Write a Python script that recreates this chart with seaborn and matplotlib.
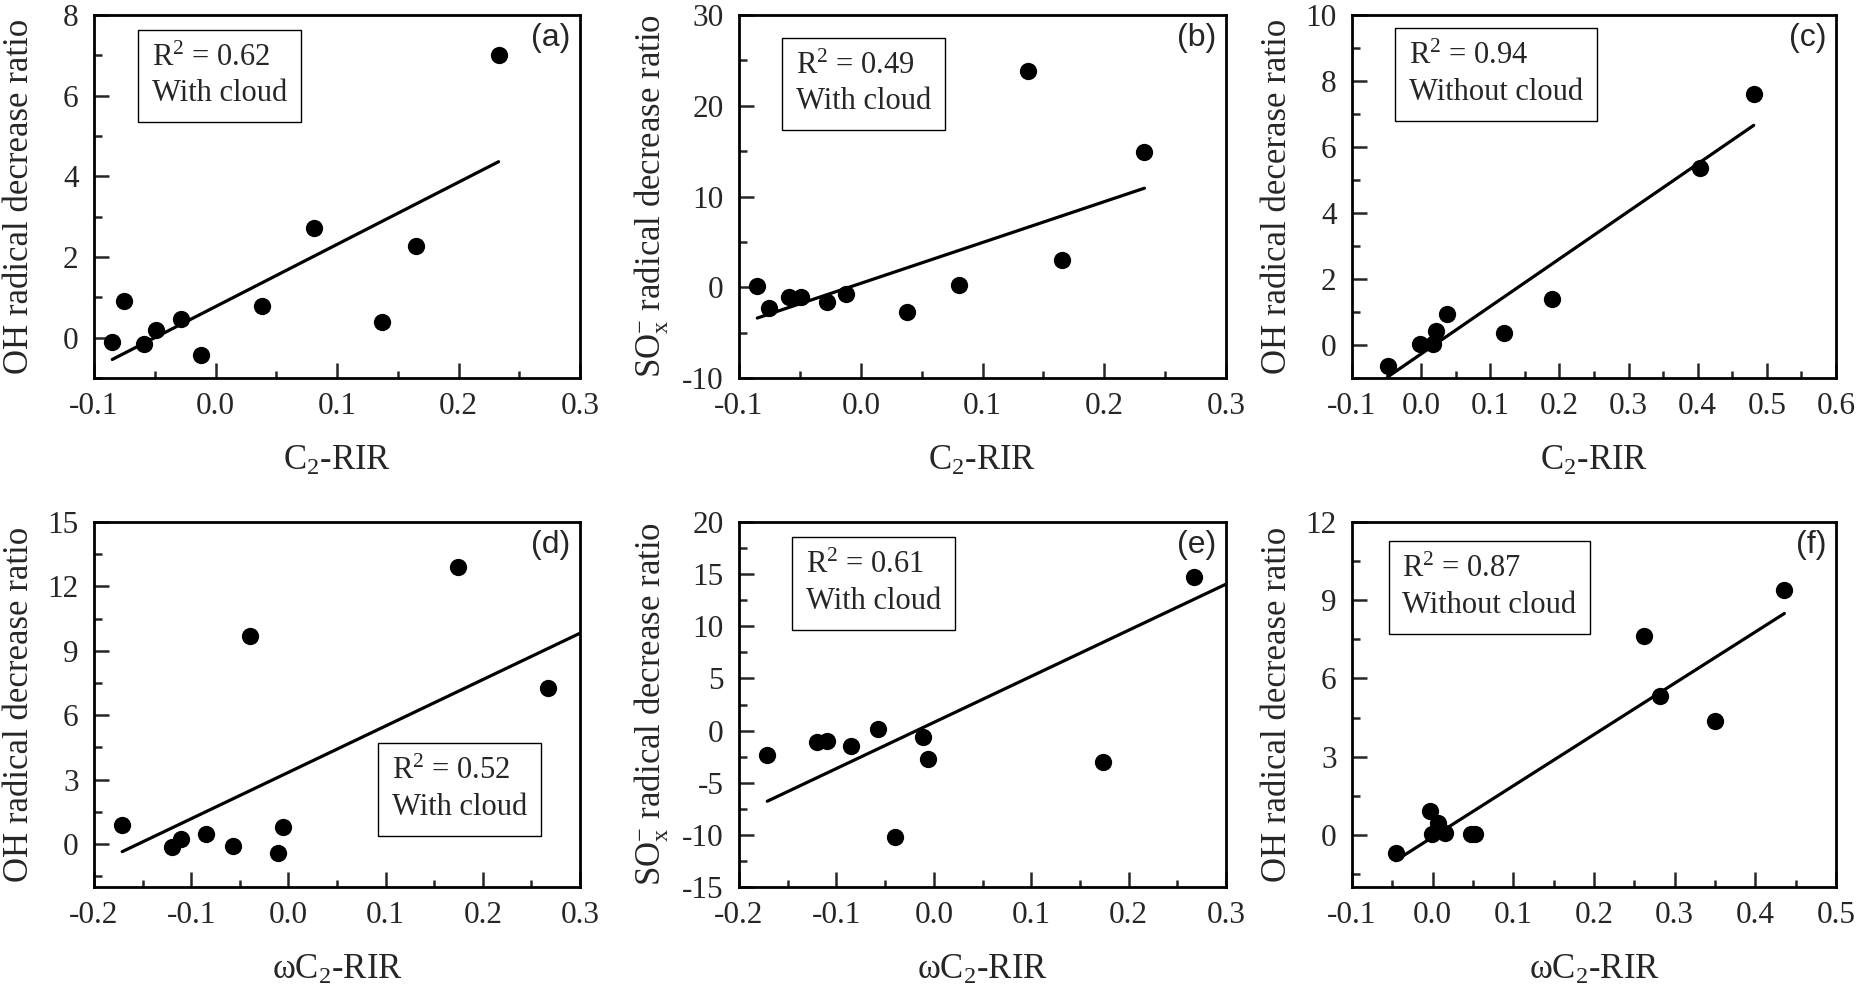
import matplotlib
matplotlib.use("Agg")
import matplotlib.pyplot as plt
import numpy as np
import seaborn as sns
from matplotlib.ticker import MultipleLocator, FormatStrFormatter

# --- data ---------------------------------------------------------------
# panels (a) and (b) share the C2-RIR values
c2_rir = [-0.085, -0.075, -0.059, -0.049, -0.028, -0.012, 0.038, 0.081, 0.137, 0.165, 0.233]
oh_a = [-0.10, 0.90, -0.15, 0.19, 0.46, -0.43, 0.79, 2.73, 0.38, 2.27, 7.01]
sox_b = [0.10, -2.25, -1.09, -1.05, -1.60, -0.69, -2.73, 0.29, 23.85, 2.95, 14.87]

# panel (c), without cloud
c2_rir_c = [-0.048, -0.002, 0.017, 0.022, 0.037, 0.120, 0.189, 0.404, 0.481]
oh_c = [-0.65, 0.02, 0.02, 0.43, 0.93, 0.37, 1.38, 5.35, 7.62]

# panels (d) and (e) share the omega-C2-RIR values
w_c2_rir = [-0.171, -0.120, -0.110, -0.085, -0.057, -0.040, -0.011, -0.006, 0.174, 0.267]
oh_d = [0.88, -0.12, 0.22, 0.47, -0.09, 9.71, -0.40, 0.81, 12.90, 7.27]
sox_e = [-2.39, -1.11, -1.02, -1.50, 0.16, -10.19, -0.64, -2.71, -3.03, 14.77]

# panel (f), without cloud
w_c2_rir_f = [-0.046, -0.003, -0.001, 0.007, 0.015, 0.047, 0.052, 0.262, 0.282, 0.350, 0.436]
oh_f = [-0.68, 0.93, 0.04, 0.47, 0.06, 0.04, 0.04, 7.61, 5.33, 4.37, 9.40]

# fitted lines as drawn in the figure
fit_slope = [15.42, 45.0, 14.4, 21.6, 44.2, 19.67]
fit_intercept = [0.77, 0.43, -0.27, 3.34, 0.78, -0.085]
fit_to_edge = [False, False, False, True, True, False]

r2_values = ["0.62", "0.49", "0.94", "0.52", "0.61", "0.87"]
conditions = ["With cloud", "With cloud", "Without cloud",
              "With cloud", "With cloud", "Without cloud"]
panel_tags = ["(a)", "(b)", "(c)", "(d)", "(e)", "(f)"]

XL_C2 = r"C$_\mathrm{2}$-RIR"
XL_W = "\u03c9" + r"C$_\mathrm{2}$-RIR"
YL_OH = "OH radical decrease ratio"
YL_SOX = r"SO$_\mathrm{x}^{-}$ radical decrease ratio"

panels = [
    dict(x=c2_rir, y=oh_a, xlim=(-0.1, 0.3), xstep=0.1, ylim=(-1, 8), ystep=2,
         xlabel=XL_C2, ylabel=YL_OH),
    dict(x=c2_rir, y=sox_b, xlim=(-0.1, 0.3), xstep=0.1, ylim=(-10, 30), ystep=10,
         xlabel=XL_C2, ylabel=YL_SOX),
    dict(x=c2_rir_c, y=oh_c, xlim=(-0.1, 0.6), xstep=0.1, ylim=(-1, 10), ystep=2,
         xlabel=XL_C2, ylabel="OH radical decerase ratio"),
    dict(x=w_c2_rir, y=oh_d, xlim=(-0.2, 0.3), xstep=0.1, ylim=(-2, 15), ystep=3,
         xlabel=XL_W, ylabel=YL_OH),
    dict(x=w_c2_rir, y=sox_e, xlim=(-0.2, 0.3), xstep=0.1, ylim=(-15, 20), ystep=5,
         xlabel=XL_W, ylabel=YL_SOX),
    dict(x=w_c2_rir_f, y=oh_f, xlim=(-0.1, 0.5), xstep=0.1, ylim=(-2, 12), ystep=3,
         xlabel=XL_W, ylabel=YL_OH),
]

# text box anchor (axes fraction) and y-label x offset per panel
box_pos = [(0.119, 0.922), (0.117, 0.900), (0.117, 0.925),
           (0.613, 0.356), (0.138, 0.920), (0.104, 0.909)]
ylab_x = [-0.12, -0.14, -0.12, -0.12, -0.14, -0.12]

# --- style ---------------------------------------------------------------
sns.set_style("ticks")
plt.rcParams["font.family"] = ["Liberation Serif", "DejaVu Serif"]
plt.rcParams["mathtext.fontset"] = "custom"
plt.rcParams["mathtext.rm"] = "Liberation Serif"
plt.rcParams["mathtext.it"] = "Liberation Serif:italic"
plt.rcParams["mathtext.bf"] = "Liberation Serif:bold"
plt.rcParams["axes.unicode_minus"] = False

W, H = 1860, 991
col_left = [94, 739, 1352]
col_width = [486, 487, 484]
row_top = [15, 522]
row_bottom = [378, 887]

fig = plt.figure(figsize=(W / 100, H / 100), dpi=100)
fig.patch.set_facecolor("white")

for i, p in enumerate(panels):
    r, c = divmod(i, 3)
    rect = [col_left[c] / W, 1 - row_bottom[r] / H,
            col_width[c] / W, (row_bottom[r] - row_top[r]) / H]
    ax = fig.add_axes(rect)

    sns.scatterplot(x=p["x"], y=p["y"], ax=ax, color="black", s=155,
                    linewidth=0, zorder=3, legend=False)

    xs = np.asarray(p["x"])
    x_end = p["xlim"][1] if fit_to_edge[i] else xs.max()
    xline = np.array([xs.min(), x_end])
    ax.plot(xline, fit_slope[i] * xline + fit_intercept[i], color="black", lw=2.3)

    ax.set_xlim(*p["xlim"])
    ax.set_ylim(*p["ylim"])
    ax.xaxis.set_major_locator(MultipleLocator(p["xstep"]))
    ax.xaxis.set_minor_locator(MultipleLocator(p["xstep"] / 2))
    ax.yaxis.set_major_locator(MultipleLocator(p["ystep"]))
    ax.yaxis.set_minor_locator(MultipleLocator(p["ystep"] / 2))
    ax.xaxis.set_major_formatter(FormatStrFormatter("%.1f"))
    ax.yaxis.set_major_formatter(FormatStrFormatter("%d"))

    ax.tick_params(which="both", direction="in", top=False, right=False, width=1.8)
    ax.tick_params(which="major", length=10.8, labelsize=22.5)
    ax.tick_params(axis="x", which="major", pad=10)
    ax.tick_params(axis="y", which="major", pad=11)
    ax.tick_params(which="minor", length=5.4)
    for s in ax.spines.values():
        s.set_linewidth(2)
        s.set_color("black")

    ax.set_xlabel(p["xlabel"], fontsize=25)
    ax.set_ylabel(p["ylabel"], fontsize=25)
    ax.xaxis.set_label_coords(0.5, -0.184)
    ax.yaxis.set_label_coords(ylab_x[i], 0.5)

    bx, by = box_pos[i]
    ax.text(bx, by, "R$^\\mathrm{2}$ = " + r2_values[i] + "\n" + conditions[i],
            transform=ax.transAxes, ha="left", va="top", fontsize=22,
            linespacing=1.3,
            bbox=dict(boxstyle="square,pad=0.45", fc="white", ec="black", lw=1.0))
    ax.text(0.98, 0.978, panel_tags[i], transform=ax.transAxes, ha="right",
            va="top", fontsize=23, family=["Liberation Sans", "DejaVu Sans"])

fig.savefig("out.png", dpi=100, facecolor="white")
